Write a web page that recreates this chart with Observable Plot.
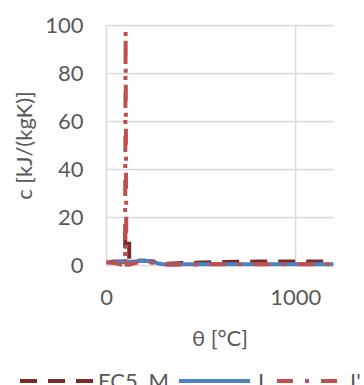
<!DOCTYPE html>
<html>
<head>
<meta charset="utf-8">
<script src="https://cdn.jsdelivr.net/npm/d3@7"></script>
<script src="https://cdn.jsdelivr.net/npm/@observablehq/plot@0.6"></script>
<style>
  html, body { margin: 0; padding: 0; background: #fff; overflow: hidden; }
  #chart { position: relative; width: 364px; }
  .legend { position: relative; width: 364px; height: 41px; font-family: Lato, "Open Sans", sans-serif; font-size: 22px; color: #595959; }
  .legend .item { position: absolute; top: 0; height: 41px; display: flex; align-items: center; white-space: nowrap; }
  .legend svg { display: block; }
</style>
</head>
<body>
<div id="chart"></div>
<script>
// --- data ---
const seriesNames = ["EC5, M", "I", "I'"];
const seriesColors = ["#7B2A2A", "#4F81BD", "#C0504D"];
const seriesDash = ["17,11", null, "16,12,4,12"];

const thetaEC5 = [20, 99, 99, 120, 120, 200, 250, 300, 350, 400, 600, 800, 1200];
const cEC5     = [1.53, 1.77, 13.6, 13.5, 2.12, 2.0, 1.62, 0.71, 0.85, 1.0, 1.4, 1.65, 1.65];

const thetaI = [0, 50, 100, 150, 200, 250, 300, 400, 600, 800, 1000, 1200];
const cI     = [1.3, 1.4, 1.5, 1.7, 2.0, 1.3, 0.5, 0.5, 0.5, 0.5, 0.5, 0.5];

const thetaI2 = [0, 50, 90, 98, 101, 105, 125, 150, 200, 250, 300, 400, 600, 800, 1000, 1200];
const cI2     = [1.5, 0.9, 0.1, 0.2, 98, 0.3, 0.4, 1.0, 1.8, 1.0, 0.3, 0.4, 0.5, 0.5, 0.5, 0.5];

const xTicks = [0, 1000];
const yTicks = [0, 20, 40, 60, 80, 100];
const xLabel = "θ [°C]";
const yLabel = "c [kJ/(kgK)]";

const toRows = (xs, ys) => xs.map((x, i) => ({x, y: ys[i]}));
const rowsEC5 = toRows(thetaEC5, cEC5);
const rowsI = toRows(thetaI, cI);
const rowsI2 = toRows(thetaI2, cI2);

const grid = "#D9D9D9";
const chart = Plot.plot({
  width: 364,
  height: 360,
  marginLeft: 106,
  marginRight: 31,
  marginTop: 25,
  marginBottom: 95,
  style: {fontFamily: "Lato, 'Open Sans', sans-serif", fontSize: "22px", color: "#595959", background: "#fff", overflow: "visible"},
  x: {domain: [0, 1200]},
  y: {domain: [0, 100]},
  marks: [
    Plot.gridY(yTicks, {stroke: grid, strokeOpacity: 1, strokeWidth: 1.5}),
    Plot.gridX(xTicks, {stroke: grid, strokeOpacity: 1, strokeWidth: 1.5}),
    Plot.axisY(yTicks, {tickSize: 0, tickPadding: 23, label: null, tickFormat: d => String(d), fontSize: 22}),
    Plot.axisX(xTicks, {tickSize: 0, tickPadding: 24, label: null, tickFormat: d => String(d), fontSize: 22}),
    Plot.line(rowsEC5, {x: "x", y: "y", stroke: seriesColors[0], strokeWidth: 4, strokeDasharray: seriesDash[0], strokeLinecap: "butt", strokeLinejoin: "round"}),
    Plot.line(rowsI, {x: "x", y: "y", stroke: seriesColors[1], strokeWidth: 4, curve: "monotone-x", strokeLinecap: "butt"}),
    Plot.line(rowsI2, {x: "x", y: "y", stroke: seriesColors[2], strokeWidth: 4, strokeDasharray: seriesDash[2], strokeLinecap: "butt", strokeLinejoin: "round"}),
    Plot.text([xLabel], {text: d => d, frameAnchor: "bottom", lineAnchor: "middle", textAnchor: "middle", dy: 73, fill: "#595959", fontSize: 22}),
    Plot.text([yLabel], {text: d => d, frameAnchor: "left", lineAnchor: "middle", textAnchor: "middle", dx: -82, rotate: -90, fill: "#595959", fontSize: 22})
  ]
});
document.getElementById("chart").appendChild(chart);

// legend (below the svg)
const legend = document.createElement("div");
legend.className = "legend";
const legendLayout = [
  {left: 20, sw: 75, gap: 3},
  {left: 179, sw: 71, gap: 8},
  {left: 277, sw: 63, gap: 10}
];
seriesNames.forEach((name, i) => {
  const L = legendLayout[i];
  const item = document.createElement("div");
  item.className = "item";
  item.style.left = L.left + "px";
  const dash = seriesDash[i] ? `stroke-dasharray="${seriesDash[i]}"` : "";
  item.innerHTML = `<svg width="${L.sw}" height="8"><line x1="0" x2="${L.sw}" y1="4" y2="4" stroke="${seriesColors[i]}" stroke-width="4" ${dash}/></svg><span style="margin-left:${L.gap}px">${name}</span>`;
  legend.appendChild(item);
});
document.body.appendChild(legend);
</script>
</body>
</html>
